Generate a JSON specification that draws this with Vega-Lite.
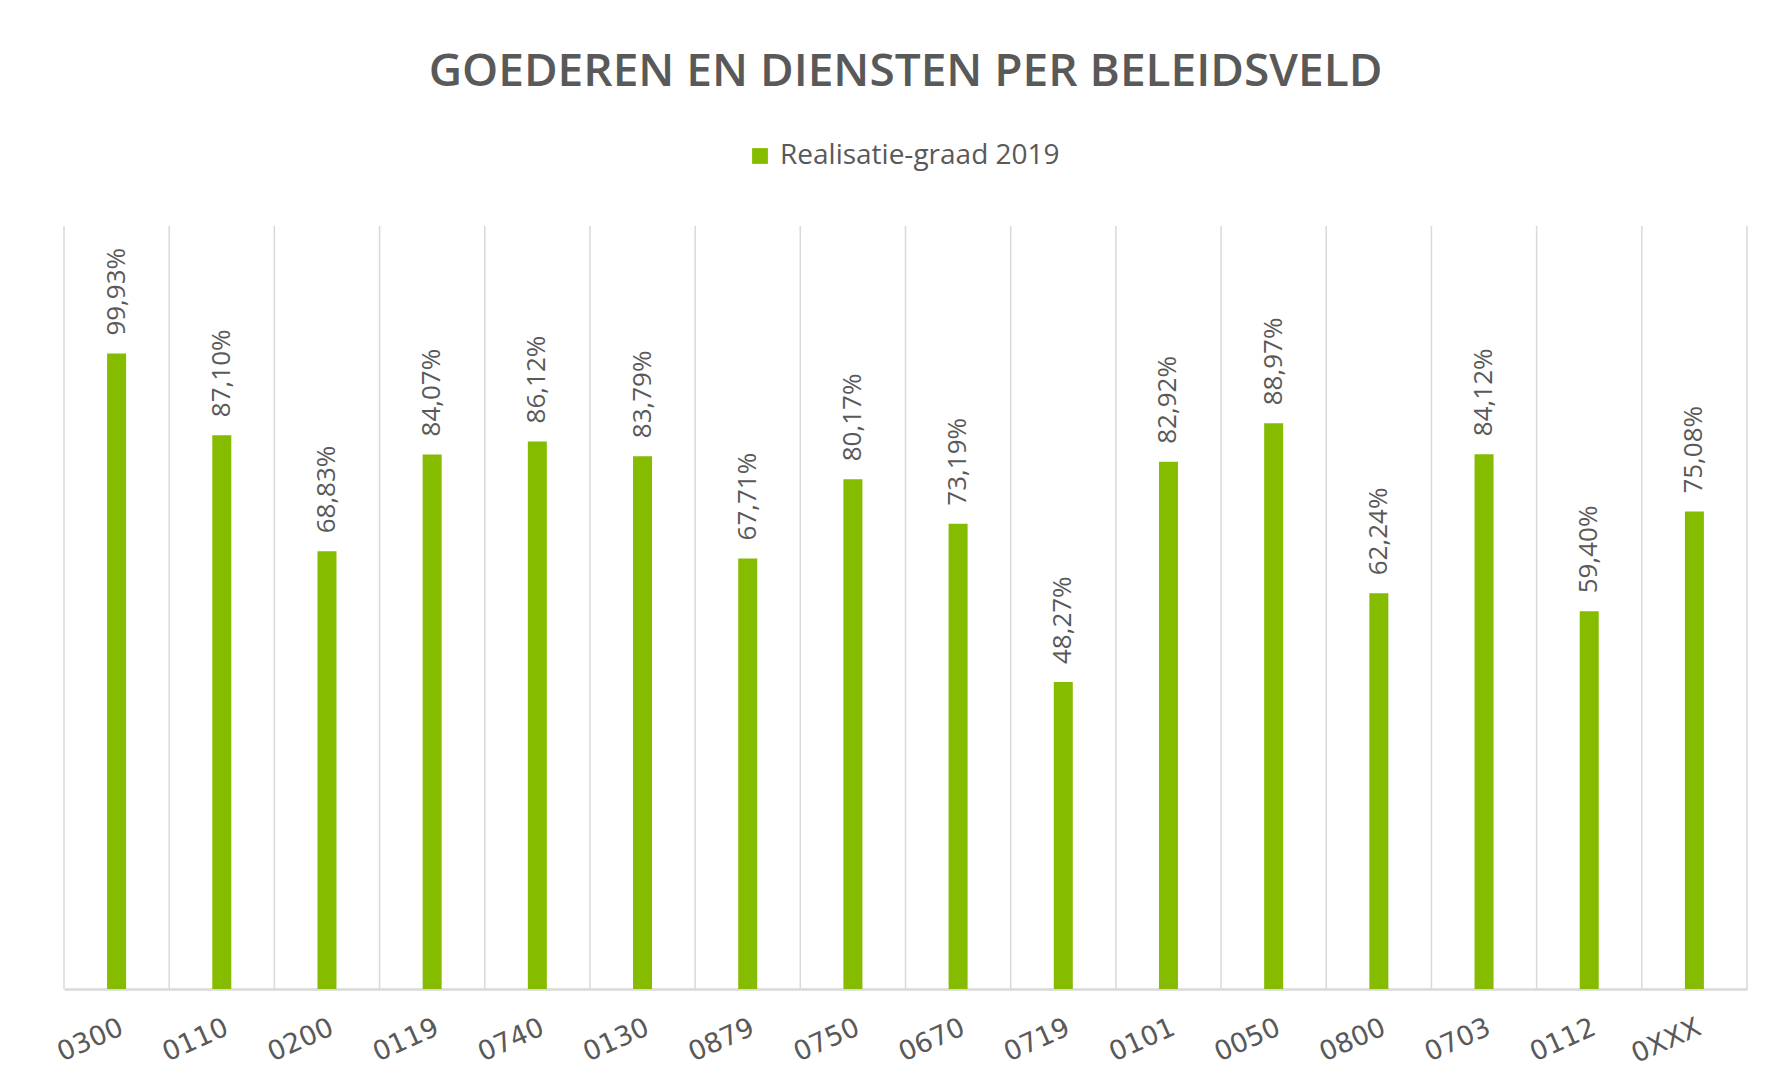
{
  "$schema": "https://vega.github.io/schema/vega-lite/v6.json",
  "width": 1683,
  "height": 763,
  "autosize": {"type": "none"},
  "padding": {"left": 64, "top": 226, "right": 22, "bottom": 100},
  "background": "white",
  "config": {
    "view": {"stroke": null}
  },
  "title": {
    "text": "GOEDEREN EN DIENSTEN PER BELEIDSVELD",
    "font": "Open Sans",
    "fontWeight": 600,
    "fontSize": 46,
    "color": "#595959",
    "anchor": "middle",
    "offset": 46
  },
  "data": {
    "values": [
      {"beleidsveld": "0300", "value": 0.9993, "serie": "Realisatie-graad 2019"},
      {"beleidsveld": "0110", "value": 0.8710, "serie": "Realisatie-graad 2019"},
      {"beleidsveld": "0200", "value": 0.6883, "serie": "Realisatie-graad 2019"},
      {"beleidsveld": "0119", "value": 0.8407, "serie": "Realisatie-graad 2019"},
      {"beleidsveld": "0740", "value": 0.8612, "serie": "Realisatie-graad 2019"},
      {"beleidsveld": "0130", "value": 0.8379, "serie": "Realisatie-graad 2019"},
      {"beleidsveld": "0879", "value": 0.6771, "serie": "Realisatie-graad 2019"},
      {"beleidsveld": "0750", "value": 0.8017, "serie": "Realisatie-graad 2019"},
      {"beleidsveld": "0670", "value": 0.7319, "serie": "Realisatie-graad 2019"},
      {"beleidsveld": "0719", "value": 0.4827, "serie": "Realisatie-graad 2019"},
      {"beleidsveld": "0101", "value": 0.8292, "serie": "Realisatie-graad 2019"},
      {"beleidsveld": "0050", "value": 0.8897, "serie": "Realisatie-graad 2019"},
      {"beleidsveld": "0800", "value": 0.6224, "serie": "Realisatie-graad 2019"},
      {"beleidsveld": "0703", "value": 0.8412, "serie": "Realisatie-graad 2019"},
      {"beleidsveld": "0112", "value": 0.5940, "serie": "Realisatie-graad 2019"},
      {"beleidsveld": "0XXX", "value": 0.7508, "serie": "Realisatie-graad 2019"}
    ]
  },
  "layer": [
    {
      "mark": {"type": "rule", "color": "#d9d9d9", "strokeWidth": 1.5},
      "encoding": {
        "x": {"field": "beleidsveld", "type": "nominal", "sort": null, "bandPosition": 0}
      }
    },
    {
      "transform": [{"filter": "datum.beleidsveld === '0XXX'"}],
      "mark": {"type": "rule", "color": "#d9d9d9", "strokeWidth": 1.5},
      "encoding": {
        "x": {"field": "beleidsveld", "type": "nominal", "sort": null, "bandPosition": 1}
      }
    },
    {
      "mark": {"type": "bar", "size": 19},
      "encoding": {
        "x": {
          "field": "beleidsveld",
          "type": "nominal",
          "sort": null,
          "scale": {"paddingInner": 0, "paddingOuter": 0},
          "axis": {
            "title": null,
            "labelAngle": -24,
            "labelAlign": "right",
            "labelBaseline": "top",
            "labelFont": "DejaVu Sans",
            "labelFontSize": 27,
            "labelColor": "#595959",
            "labelDx": -21,
            "ticks": false,
            "grid": false,
            "domainColor": "#d9d9d9",
            "domainWidth": 2.5,
            "labelPadding": 25
          }
        },
        "y": {"field": "value", "type": "quantitative", "scale": {"domain": [0, 1.2], "nice": false}, "axis": null},
        "color": {
          "field": "serie",
          "type": "nominal",
          "scale": {"range": ["#85bc00"]},
          "legend": {
            "title": null,
            "orient": "none",
            "legendX": 682,
            "legendY": -84,
            "direction": "horizontal",
            "symbolType": "square",
            "symbolSize": 250,
            "symbolStrokeWidth": 0,
            "symbolOpacity": 1,
            "labelFont": "Open Sans",
            "labelFontSize": 28,
            "labelColor": "#595959",
            "labelOffset": 6,
            "labelLimit": 0
          }
        }
      }
    },
    {
      "mark": {
        "type": "text",
        "angle": 270,
        "align": "left",
        "baseline": "middle",
        "dx": 18,
        "font": "Open Sans",
        "fontSize": 26,
        "color": "#595959",
        "text": {"expr": "replace(format(datum.value, '.2%'), '.', ',')"}
      },
      "encoding": {
        "x": {"field": "beleidsveld", "type": "nominal", "sort": null},
        "y": {"field": "value", "type": "quantitative"}
      }
    }
  ]
}
